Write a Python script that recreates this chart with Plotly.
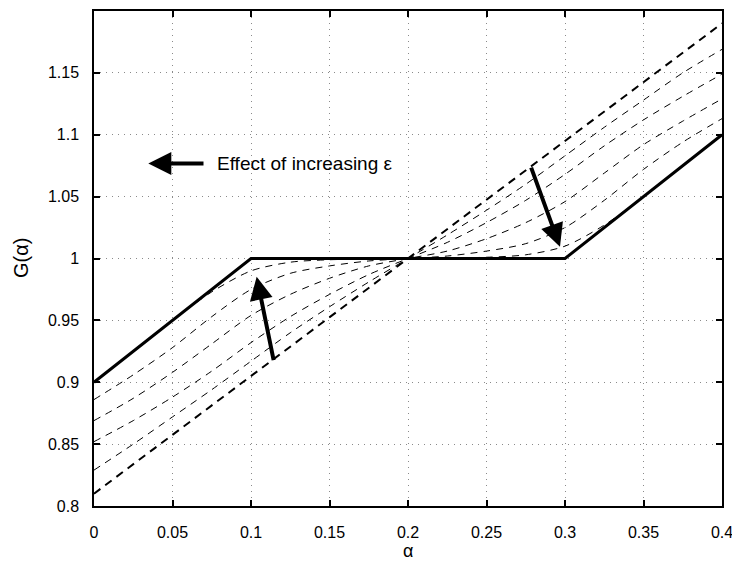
import plotly.graph_objects as go

alpha = [0.0, 0.025, 0.05, 0.075, 0.1, 0.125, 0.15, 0.175, 0.2,
         0.225, 0.25, 0.275, 0.3, 0.325, 0.35, 0.375, 0.4]
g_limit_alpha = [0.0, 0.1, 0.3, 0.4]
g_limit = [0.9, 1.0, 1.0, 1.1]
g_c0 = [0.900, 0.925, 0.950, 0.973, 0.990, 0.997, 0.999, 0.9995, 1.0,
        1.0005, 1.001, 1.003, 1.010, 1.027, 1.050, 1.075, 1.100]
g_c1 = [0.886, 0.906, 0.928, 0.953, 0.975, 0.988, 0.994, 0.998, 1.0,
        1.002, 1.006, 1.012, 1.025, 1.047, 1.072, 1.094, 1.113]
g_c2 = [0.869, 0.887, 0.908, 0.931, 0.954, 0.971, 0.984, 0.994, 1.0,
        1.006, 1.016, 1.029, 1.046, 1.069, 1.092, 1.111, 1.129]
g_c3 = [0.852, 0.869, 0.888, 0.909, 0.932, 0.953, 0.971, 0.987, 1.0,
        1.013, 1.029, 1.047, 1.068, 1.091, 1.112, 1.131, 1.149]
g_c4 = [0.829, 0.850, 0.872, 0.894, 0.917, 0.940, 0.961, 0.981, 1.0,
        1.019, 1.039, 1.060, 1.083, 1.106, 1.128, 1.150, 1.169]
g_lin_alpha = [0.0, 0.4]
g_lin = [0.81, 1.19]

x_ticks = [0, 0.05, 0.1, 0.15, 0.2, 0.25, 0.3, 0.35, 0.4]
x_tick_text = ["0", "0.05", "0.1", "0.15", "0.2", "0.25", "0.3", "0.35", "0.4"]
y_ticks = [0.8, 0.85, 0.9, 0.95, 1.0, 1.05, 1.1, 1.15]
y_tick_text = ["0.8", "0.85", "0.9", "0.95", "1", "1.05", "1.1", "1.15"]

FONT = "Liberation Sans, Arial, sans-serif"

fig = go.Figure()
for c in [g_c0, g_c1, g_c2, g_c3, g_c4]:
    fig.add_trace(go.Scatter(x=alpha, y=c, mode="lines",
                             line=dict(color="black", width=1, dash="7px,6px", shape="spline", smoothing=0.8),
                             showlegend=False, hoverinfo="skip"))
fig.add_trace(go.Scatter(x=g_lin_alpha, y=g_lin, mode="lines",
                         line=dict(color="black", width=2, dash="8px,6px"),
                         showlegend=False, hoverinfo="skip"))
fig.add_trace(go.Scatter(x=g_limit_alpha, y=g_limit, mode="lines",
                         line=dict(color="black", width=3),
                         showlegend=False, hoverinfo="skip"))

arrow = dict(showarrow=True, arrowhead=2, arrowsize=1.15, arrowwidth=4, arrowcolor="black",
             xref="x", yref="y", axref="x", ayref="y", text="")
fig.add_annotation(x=0.1036, y=0.9852, ax=0.1146, ay=0.9166, **arrow)
fig.add_annotation(x=0.2968, y=1.0095, ax=0.2781, ay=1.0746, **arrow)
fig.add_annotation(x=0.0346, y=1.0768, ax=0.0707, ay=1.0768, **arrow)
fig.add_annotation(x=0.0771, y=1.0768, xref="x", yref="y", xanchor="left", yanchor="middle",
                   text="Effect of increasing ε", showarrow=False,
                   font=dict(family=FONT, size=19, color="black"))

# axis titles placed in paper coordinates
fig.add_annotation(x=0.5, y=-0.0909, xref="paper", yref="paper", xanchor="center", yanchor="middle",
                   text="α", showarrow=False, font=dict(family=FONT, size=18, color="black"))
fig.add_annotation(x=-0.117, y=0.5, xref="paper", yref="paper", xanchor="center", yanchor="middle",
                   text="G(α)", textangle=-90, showarrow=False,
                   font=dict(family=FONT, size=20, color="black"))

axis_common = dict(showline=True, linecolor="black", linewidth=1.5, mirror="ticks",
                   ticks="inside", ticklen=6, tickwidth=1.5, tickcolor="black",
                   showgrid=True, gridcolor="#8a8a8a", gridwidth=1, griddash="1px,5px",
                   zeroline=False, automargin=False, ticklabeloverflow="allow",
                   tickfont=dict(family=FONT, size=16, color="black"))

fig.update_xaxes(range=[0, 0.4], tickvals=x_ticks, ticktext=x_tick_text, ticklabelstandoff=11,
                 **axis_common)
fig.update_yaxes(range=[0.8, 1.2], tickvals=y_ticks, ticktext=y_tick_text, ticklabelstandoff=10,
                 **axis_common)

fig.update_layout(width=732, height=562, margin=dict(l=94, r=10, t=11, b=56),
                  plot_bgcolor="white", paper_bgcolor="white", showlegend=False)

fig.write_html("out.html")
